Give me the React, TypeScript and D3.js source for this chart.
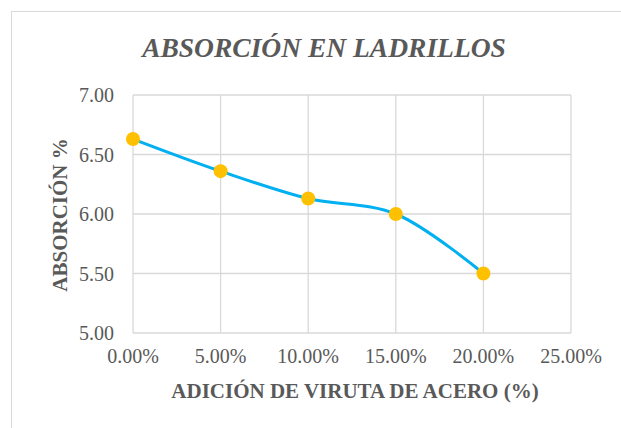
import React, { useEffect, useRef } from 'react';
import * as d3 from 'd3';

const additions = [0, 0.05, 0.1, 0.15, 0.2];
const absorption = [6.63, 6.36, 6.13, 6.0, 5.5];
const yTicks = [5.0, 5.5, 6.0, 6.5, 7.0];
const xTicks = [0, 0.05, 0.1, 0.15, 0.2, 0.25];

const title = 'ABSORCIÓN EN LADRILLOS';
const xTitle = 'ADICIÓN DE VIRUTA DE ACERO (%)';
const yTitle = 'ABSORCIÓN %';

const App: React.FC = () => {
  const ref = useRef<SVGSVGElement>(null);

  useEffect(() => {
    const width = 621;
    const height = 428;
    const svg = d3.select(ref.current!);
    svg.selectAll('*').remove();

    const x = d3.scaleLinear().domain([0, 0.25]).range([133, 571]);
    const y = d3.scaleLinear().domain([5, 7]).range([333, 95]);

    const font = "'Liberation Serif', 'DejaVu Serif', serif";
    const textColor = '#595959';

    // chart border
    svg
      .append('rect')
      .attr('x', 11.5)
      .attr('y', 11.5)
      .attr('width', width)
      .attr('height', height)
      .attr('fill', 'white')
      .attr('stroke', '#d9d9d9');

    // gridlines
    svg
      .append('g')
      .selectAll('line')
      .data(yTicks)
      .enter()
      .append('line')
      .attr('x1', x(0))
      .attr('x2', x(0.25))
      .attr('y1', (d) => y(d))
      .attr('y2', (d) => y(d))
      .attr('stroke', '#d9d9d9')
      .attr('stroke-width', 1.3);

    svg
      .append('g')
      .selectAll('line')
      .data(xTicks)
      .enter()
      .append('line')
      .attr('x1', (d) => x(d))
      .attr('x2', (d) => x(d))
      .attr('y1', y(5))
      .attr('y2', y(7))
      .attr('stroke', '#d9d9d9')
      .attr('stroke-width', 1.3);

    // tick labels
    svg
      .append('g')
      .selectAll('text')
      .data(yTicks)
      .enter()
      .append('text')
      .attr('x', 114)
      .attr('y', (d) => y(d))
      .attr('dy', '0.35em')
      .attr('text-anchor', 'end')
      .style('font-family', font)
      .style('font-size', '20px')
      .attr('fill', textColor)
      .text((d) => d.toFixed(2));

    svg
      .append('g')
      .selectAll('text')
      .data(xTicks)
      .enter()
      .append('text')
      .attr('x', (d) => x(d))
      .attr('y', 356)
      .attr('dy', '0.35em')
      .attr('text-anchor', 'middle')
      .style('font-family', font)
      .style('font-size', '20px')
      .attr('fill', textColor)
      .text((d) => (d * 100).toFixed(2) + '%');

    // titles
    svg
      .append('text')
      .attr('x', 324)
      .attr('y', 47)
      .attr('dy', '0.35em')
      .attr('text-anchor', 'middle')
      .style('font-family', font)
      .style('font-size', '27.5px')
      .style('font-weight', 'bold')
      .style('font-style', 'italic')
      .attr('fill', textColor)
      .text(title);

    svg
      .append('text')
      .attr('x', (x(0) + x(0.25)) / 2 + 3)
      .attr('y', 391)
      .attr('dy', '0.35em')
      .attr('text-anchor', 'middle')
      .style('font-family', font)
      .style('font-size', '21px')
      .style('font-weight', 'bold')
      .attr('fill', textColor)
      .text(xTitle);

    svg
      .append('text')
      .attr('transform', `translate(60, ${(y(5) + y(7)) / 2 + 1}) rotate(-90)`)
      .attr('dy', '0.35em')
      .attr('text-anchor', 'middle')
      .style('font-family', font)
      .style('font-size', '21px')
      .style('font-weight', 'bold')
      .attr('fill', textColor)
      .text(yTitle);

    // series
    const data = additions.map((a, i) => [a, absorption[i]] as [number, number]);
    const line = d3
      .line<[number, number]>()
      .x((d) => x(d[0]))
      .y((d) => y(d[1]))
      .curve(d3.curveCatmullRom.alpha(0.5));

    svg
      .append('path')
      .datum(data)
      .attr('d', line)
      .attr('fill', 'none')
      .attr('stroke', '#00b0f0')
      .attr('stroke-width', 3);

    svg
      .append('g')
      .selectAll('circle')
      .data(data)
      .enter()
      .append('circle')
      .attr('cx', (d) => x(d[0]))
      .attr('cy', (d) => y(d[1]))
      .attr('r', 7)
      .attr('fill', '#ffc000');
  }, []);

  return (
    <svg
      ref={ref}
      width={621}
      height={428}
      style={{ position: 'absolute', top: 0, left: 0, background: 'white' }}
    />
  );
};

export default App;
